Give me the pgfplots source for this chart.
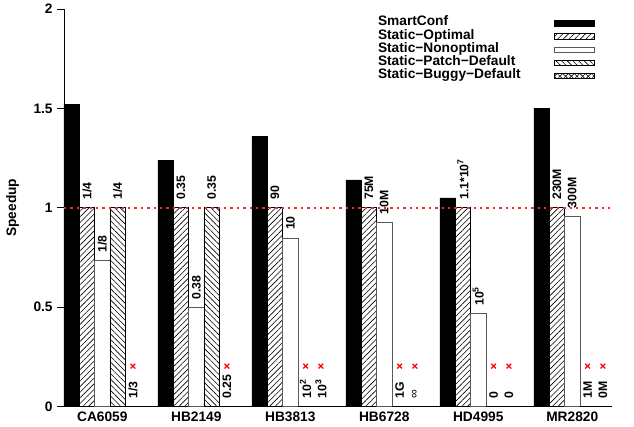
\documentclass[border=0pt]{standalone}
\usepackage{fontspec}
\setmainfont{Liberation Sans}
\usepackage{pgfplots}
\pgfplotsset{compat=1.18}
\usetikzlibrary{patterns.meta}

\definecolor{refred}{RGB}{255,0,0}
\newcommand\mainfont{\bfseries\fontsize{10.3pt}{12pt}\selectfont}
\newcommand\lblfont{\bfseries\fontsize{9.2pt}{11pt}\selectfont}

\pgfplotsset{
  flat/.style={legend image code/.code={\draw[##1] (0pt,-2.25pt) rectangle (30pt,1.75pt);}},
  lbl/.style={draw=none, mark=none, forget plot,
    nodes near coords={\pgfplotspointmeta}, point meta=explicit symbolic,
    every node near coord/.append style={rotate=90, anchor=west, inner xsep=6pt, inner ysep=0pt, outer sep=0pt, font=\lblfont, text=black}},
}

\begin{document}
\begin{tikzpicture}
\begin{axis}[
  scale only axis, width=411pt, height=298pt,
  xmin=-0.4075, xmax=5.423, ymin=0, ymax=2,
  axis x line*=bottom, axis y line*=left,
  axis line style={-, line width=0.6pt},
  xtick={0,1,2,3,4,5},
  xticklabels={CA6059,HB2149,HB3813,HB6728,HD4995,MR2820},
  ytick={0,0.5,1,1.5,2},
  tick align=outside, major tick length=5pt,
  x tick style={draw=none},
  y tick style={line width=0.6pt, black},
  tick label style={font=\mainfont},
  xticklabel style={yshift=4.5pt},
  /pgf/number format/assume math mode=true,
  ylabel={Speedup},
  every axis y label/.style={at={(axis description cs:-0.094,0.5)}, rotate=90, anchor=center, font=\mainfont},
  legend cell align=left, legend plot pos=right,
  legend style={at={(axis description cs:0.573,0.982)}, anchor=north west,
    draw=none, fill=none, inner sep=0pt, outer sep=0pt, row sep=0pt, column sep=0pt,
    nodes={inner sep=0pt, text height=7.2pt, text depth=2.7pt, font=\mainfont}},
]
% bars
\addplot[ybar, bar width=0.163, bar shift=-0.326, fill=black, draw=black, line width=0.5pt, flat]
  coordinates {(0,1.52) (1,1.24) (2,1.36) (3,1.14) (4,1.05) (5,1.50)};
\addlegendentry{\makebox[132pt][l]{SmartConf}}

\addplot[ybar, bar width=0.163, bar shift=-0.163, draw=black, line width=0.5pt,
  pattern={Lines[angle=45,distance=3pt,line width=0.45pt]}, flat]
  coordinates {(0,1) (1,1) (2,1) (3,1) (4,1) (5,1)};
\addlegendentry{\makebox[132pt][l]{Static−Optimal}}

\addplot[ybar, bar width=0.163, bar shift=0, fill=white, draw=black!65, line width=0.5pt, flat]
  coordinates {(0,0.735) (1,0.497) (2,0.848) (3,0.927) (4,0.467) (5,0.957)};
\addlegendentry{\makebox[132pt][l]{Static−Nonoptimal}}

\addplot[ybar, bar width=0.163, bar shift=0.163, draw=black, line width=0.5pt,
  pattern={Lines[angle=-45,distance=3pt,line width=0.45pt]}, flat]
  coordinates {(0,1) (1,1) (2,0) (3,0) (4,0) (5,0)};
\addlegendentry{\makebox[132pt][l]{Static−Patch−Default}}

\addplot[ybar, bar width=0.163, bar shift=0.326, draw=black, line width=0.5pt,
  pattern={Lines[angle=45,distance=3pt,line width=0.45pt]},
  postaction={pattern={Lines[angle=-45,distance=3pt,line width=0.45pt]}}, flat]
  coordinates {(0,0) (1,0) (2,0) (3,0) (4,0) (5,0)};
\addlegendentry{\makebox[132pt][l]{Static−Buggy−Default}}

% value labels (rotated), at each bar's position
\addplot[lbl] coordinates {(-0.163,1)[1/4] (0.837,1)[0.35] (1.837,1)[90] (2.837,1)[75M] (3.837,1)[1.1*10\textsuperscript{7}] (4.837,1)[230M]};
\addplot[lbl] coordinates {(0,0.735)[1/8] (1,0.497)[0.38] (2,0.848)[10] (3,0.927)[10M] (4,0.467)[10\textsuperscript{5}] (5,0.957)[300M]};
\addplot[lbl] coordinates {(0.163,1)[1/4] (1.163,1)[0.35] (2.163,0)[10\textsuperscript{2}] (3.163,0)[1G] (4.163,0)[0] (5.163,0)[1M]};
\addplot[lbl] coordinates {(0.326,0)[1/3] (1.326,0)[0.25] (2.326,0)[10\textsuperscript{3}] (3.326,0)[{\mdseries ∞}] (4.326,0)[0] (5.326,0)[0M]};

% red crosses: configurations that could not run
\addplot[only marks, mark=x, color=refred, mark size=2.5pt, mark options={line width=0.9pt, draw=refred}, forget plot]
  coordinates {(0.326,0.203) (1.326,0.203) (2.163,0.203) (2.326,0.203) (3.163,0.203) (3.326,0.203)
               (4.163,0.203) (4.326,0.203) (5.163,0.203) (5.326,0.203)};

% speedup = 1 reference line
\addplot[refred!85, solid, line width=1.1pt, dash pattern=on 1.8pt off 3pt, no markers, forget plot]
  coordinates {(-0.4075,1) (5.423,1)};
\end{axis}
\pgfresetboundingbox
\path[use as bounding box] (current axis.south west) ++(-48pt,-15.4pt) rectangle ++(475.5pt,320.25pt);
\end{tikzpicture}
\end{document}
